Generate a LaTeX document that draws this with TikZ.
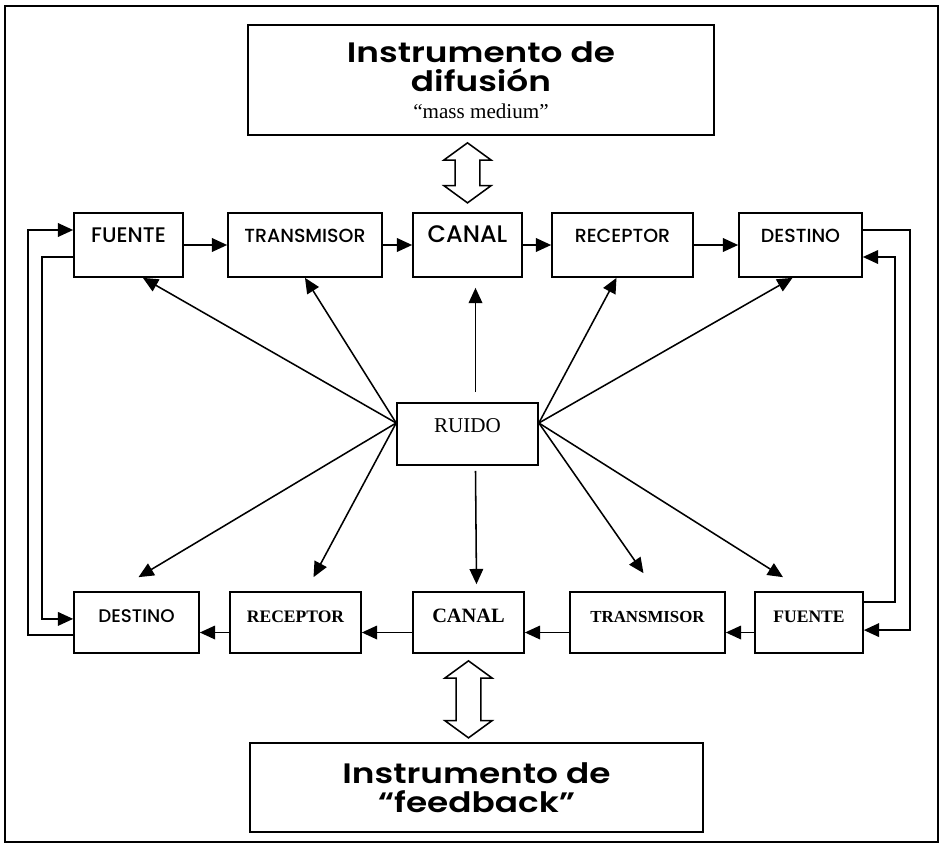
\documentclass[tikz,border=0pt]{standalone}
\usepackage{fontspec}
\setmainfont{Liberation Serif}
\newfontfamily\gotica{Poppins Medium}
\newfontfamily\goticaancha[FakeStretch=1.22]{Poppins SemiBold}
\usepackage{tikz}
\usetikzlibrary{arrows.meta, positioning, calc}

% flecha doble hueca: #1 punta superior, #2 largo
\newcommand{\flechadoble}[2]{%
  \draw[line width=1.1pt, shift={(#1)}] (0,0) -- (0.59,-0.43) -- (0.31,-0.43)
    -- (0.31,{-#2+0.43}) -- (0.59,{-#2+0.43}) -- (0,-#2)
    -- (-0.59,{-#2+0.43}) -- (-0.31,{-#2+0.43}) -- (-0.31,-0.43)
    -- (-0.59,-0.43) -- cycle;}

\tikzset{
  caja/.style={draw, line width=1.2pt, inner sep=0pt},
  filaA/.style={caja, minimum height=1.6cm, text height=0.3cm, text depth=0.45cm,
    font=\gotica\fontsize{13.5}{15}\selectfont},
  filaB/.style={caja, minimum height=1.525cm, text height=0.3cm, text depth=0.3cm,
    font=\bfseries\fontsize{12.5}{14}\selectfont},
  titulo/.style={caja, align=center, font=\goticaancha\fontsize{20}{21}\selectfont},
  flecha/.style={line width=1.1pt, -{Triangle[length=0.38cm, width=0.34cm]}},
}

\begin{document}
\begin{tikzpicture}
    \useasboundingbox (0,0) rectangle (23.525,-21.125);
    \draw[line width=1.3pt] (0.125,-0.15) rectangle (23.45,-21.05);

    % instrumentos
    \node[titulo, minimum width=11.65cm, minimum height=2.75cm] (difusion) at (12.025,-2.0)
        {Instrumento de\\difusión\\[-2pt]\normalfont\fontsize{15}{16}\selectfont “mass medium”};
    \node[titulo, minimum width=11.325cm, minimum height=2.225cm] (feedback) at (11.9125,-19.6875)
        {Instrumento de\\“feedback”};

    % fila de arriba
    \node[filaA, minimum width=2.725cm, font=\gotica\fontsize{15}{16}\selectfont] (fuenteA) at (3.2125,-6.125) {FUENTE};
    \node[filaA, minimum width=3.85cm] (transA) at (7.625,-6.125) {TRANSMISOR};
    \node[filaA, minimum width=2.725cm, font=\gotica\fontsize{17}{19}\selectfont] (canalA) at (11.6875,-6.125) {CANAL};
    \node[filaA, minimum width=3.525cm] (recepA) at (15.5625,-6.125) {RECEPTOR};
    \node[filaA, minimum width=3.075cm] (destA) at (20.0125,-6.125) {DESTINO};

    % fila de abajo
    \node[filaB, minimum width=3.125cm, font=\gotica\fontsize{13}{15}\selectfont] (destB) at (3.4125,-15.5625) {DESTINO};
    \node[filaB, minimum width=3.275cm] (recepB) at (7.3875,-15.5625) {RECEPTOR};
    \node[filaB, minimum width=2.775cm, font=\bfseries\fontsize{14.5}{16}\selectfont] (canalB) at (11.7125,-15.5625) {CANAL};
    \node[filaB, minimum width=3.875cm, font=\bfseries\fontsize{12}{14}\selectfont] (transB) at (16.1875,-15.5625) {TRANSMISOR};
    \node[filaB, minimum width=2.7cm] (fuenteB) at (20.225,-15.5625) {FUENTE};

    \node[caja, minimum width=3.525cm, minimum height=1.55cm, text height=0.35cm, text depth=0.45cm,
        font=\fontsize{15}{16}\selectfont] (ruido) at (11.6875,-10.85) {RUIDO};

    % flechas dobles
    \coordinate (dA) at ($(difusion.south -| canalA.north)+(0,-0.175)$);
    \coordinate (dB) at ($(canalB.south)+(0,-0.175)$);
    \flechadoble{dA}{1.5}
    \flechadoble{dB}{1.925}

    % cadena de ida y de vuelta
    \draw[flecha] (fuenteA) -- (transA);
    \draw[flecha] (transA) -- (canalA);
    \draw[flecha] (canalA) -- (recepA);
    \draw[flecha] (recepA) -- (destA);
    \draw[flecha] ([yshift=-0.25cm]fuenteB.west) -- ([yshift=-0.25cm]transB.east);
    \draw[flecha] ([yshift=-0.25cm]transB.west) -- ([yshift=-0.25cm]canalB.east);
    \draw[flecha] ([yshift=-0.25cm]canalB.west) -- ([yshift=-0.25cm]recepB.east);
    \draw[flecha] ([yshift=-0.25cm]recepB.west) -- ([yshift=-0.25cm]destB.east);

    % retornos laterales
    \draw[flecha] ([yshift=-0.3cm]fuenteA.west) -- ++(-0.775,0) |- ([yshift=0.09cm]destB.west);
    \draw[flecha] ([yshift=-0.31cm]destB.west) -- ++(-1.125,0) |- ([yshift=0.375cm]fuenteA.west);
    \draw[flecha] ([yshift=0.375cm]destA.east) -- ++(1.175,0) |- ([yshift=-0.19cm]fuenteB.east);
    \draw[flecha] ([yshift=0.51cm]fuenteB.east) -- ++(0.775,0) |- ([yshift=-0.3cm]destA.east);

    % ruido
    \coordinate (rI) at ([yshift=0.275cm]ruido.west);
    \coordinate (rD) at ([yshift=0.275cm]ruido.east);
    \draw[flecha] (rI) -- ([xshift=0.36cm]fuenteA.south);
    \draw[flecha] (rI) -- (transA.south);
    \draw[flecha] ([xshift=0.2cm, yshift=0.25cm]ruido.north) -- ([xshift=0.2cm, yshift=-0.25cm]canalA.south);
    \draw[flecha] (rD) -- ([xshift=-0.15cm]recepA.south);
    \draw[flecha] (rD) -- ([xshift=-0.2cm]destA.south);
    \draw[flecha] (rI) -- ([xshift=0.05cm, yshift=0.35cm]destB.north);
    \draw[flecha] (rI) -- ([xshift=0.45cm, yshift=0.35cm]recepB.north);
    \draw[flecha] ([xshift=0.2cm, yshift=-0.125cm]ruido.south) -- ([xshift=0.2cm, yshift=0.175cm]canalB.north);
    \draw[flecha] (rD) -- ([xshift=-0.1cm, yshift=0.45cm]transB.north);
    \draw[flecha] (rD) -- ([xshift=-0.65cm, yshift=0.35cm]fuenteB.north);
\end{tikzpicture}
\end{document}
